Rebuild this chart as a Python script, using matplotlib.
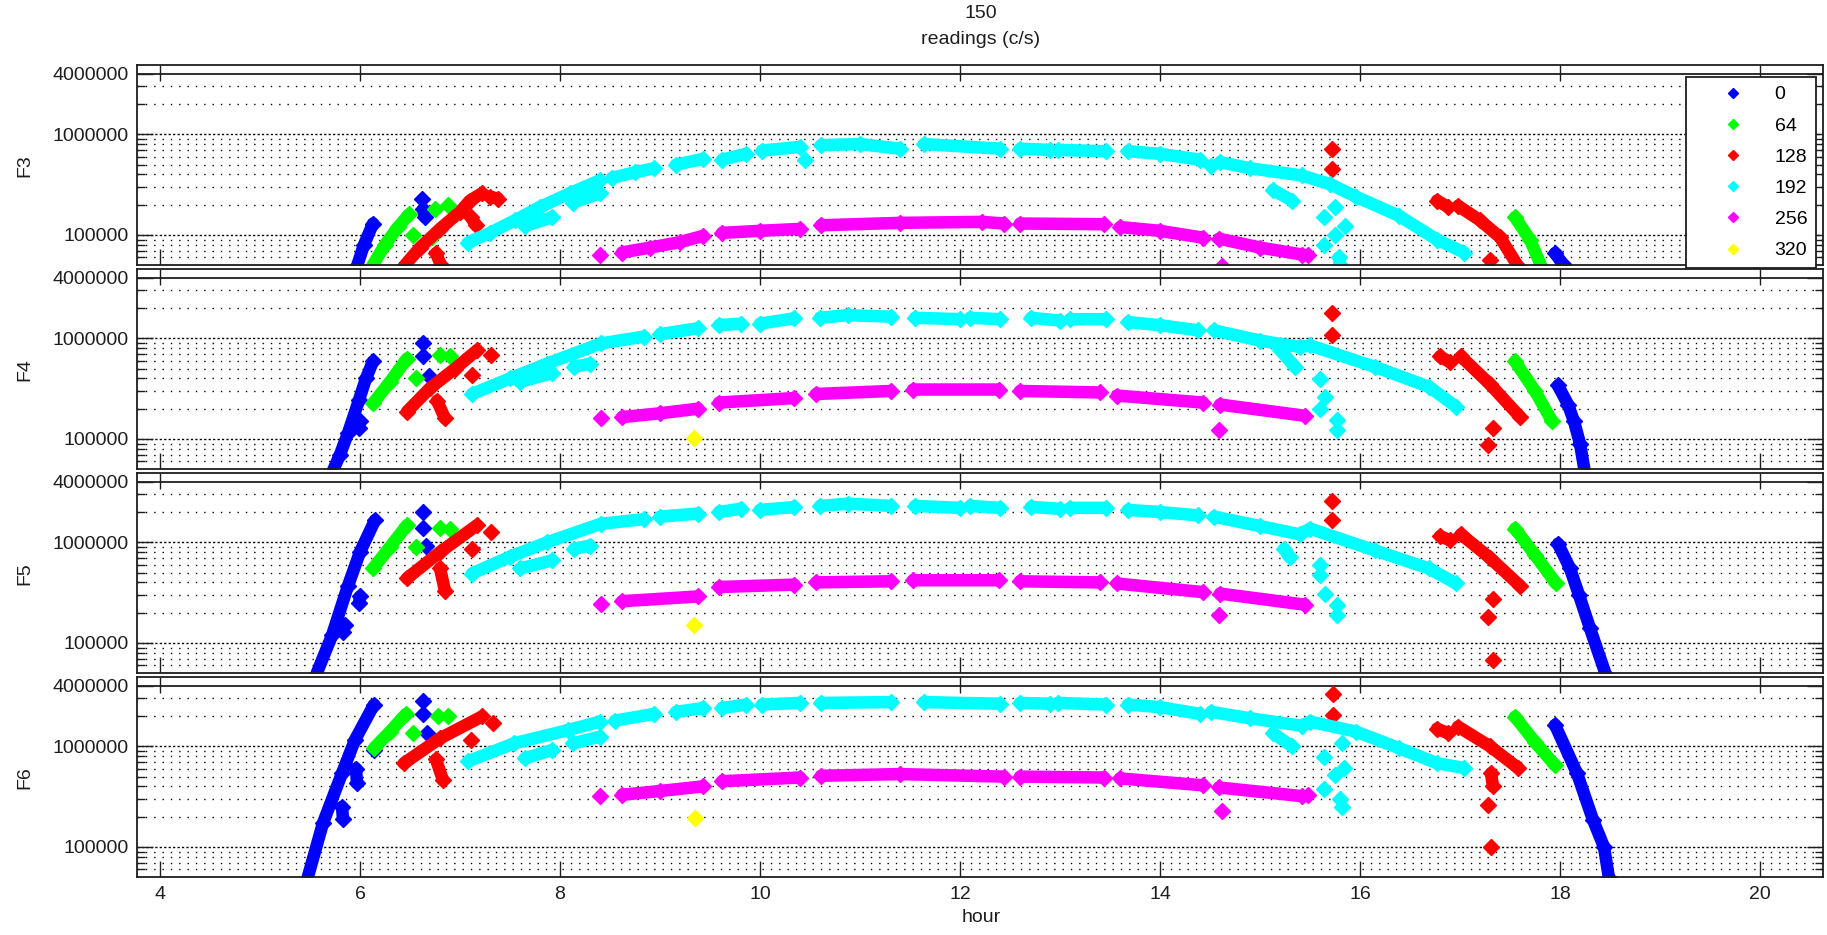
import numpy as np
import matplotlib
matplotlib.use('Agg')
import matplotlib.pyplot as plt
from matplotlib.lines import Line2D
from matplotlib.ticker import FixedLocator, NullFormatter

plt.rcParams['font.family'] = ['Liberation Sans', 'DejaVu Sans']

# ---------------------------------------------------------------------------
# Axis and legend definitions
# ---------------------------------------------------------------------------
HOUR_TICKS = [4, 6, 8, 10, 12, 14, 16, 18, 20]
Y_MAJOR = [1e5, 1e6, 4e6]
Y_MAJOR_LABELS = ['100000', '1000000', '4000000']
Y_MINOR = [6e4, 7e4, 8e4, 9e4, 2e5, 3e5, 4e5, 5e5, 6e5, 7e5, 8e5, 9e5, 2e6, 3e6]
PANELS = ['F3', 'F4', 'F5', 'F6']
CODES = ['0', '64', '128', '192', '256', '320']
COLORS = ['#0000ff', '#00ff00', '#ff0000', '#00ffff', '#ff00ff', '#ffff00']

# ---------------------------------------------------------------------------
# Readings (hour, c/s); None separates clusters
# ---------------------------------------------------------------------------
F3_0 = [(5.97, 4.9e4), (6.04, 8e4), (6.13, 1.3e5), None,
        (6.62, 2.3e5), None, (6.63, 1.8e5), (6.65, 1.5e5), None,
        (17.95, 6.6e4), (18.03, 5.1e4)]
F3_64 = [(6.11, 4.7e4), (6.25, 8e4), (6.38, 1.2e5), (6.49, 1.6e5), None,
         (6.53, 1.0e5), None, (6.72, 9.5e4), None, (6.75, 1.8e5), None,
         (6.88, 2.0e5), None,
         (17.55, 1.5e5), (17.7, 9e4), (17.82, 4.7e4)]
F3_128 = [(6.44, 4.9e4), (6.6, 7.5e4), (6.8, 1.15e5), (7.0, 1.7e5), (7.1, 2.2e5),
          (7.22, 2.6e5), None, (7.30, 2.4e5), (7.38, 2.3e5), None,
          (7.11, 1.5e5), (7.16, 1.25e5), None, (6.76, 6.6e4), (6.81, 5e4), None,
          (15.72, 7.1e5), None, (15.72, 4.5e5), None,
          (16.77, 2.2e5), (16.88, 1.9e5), None,
          (16.98, 1.95e5), (17.2, 1.4e5), (17.4, 9.5e4), (17.58, 4.9e4), None,
          (17.3, 5.6e4)]
F3_192 = [(7.08, 8.4e4), (7.3, 1.05e5), (7.55, 1.4e5), (7.8, 1.9e5), (8.1, 2.6e5),
          (8.40, 3.5e5), None, (8.52, 3.7e5), (8.75, 4.2e5), (8.94, 4.6e5), None,
          (9.16, 5.0e5), (9.43, 5.7e5), None, (9.62, 5.6e5), (9.86, 6.4e5), None,
          (10.02, 6.9e5), (10.40, 7.5e5), None, (10.45, 5.6e5), None,
          (10.61, 7.8e5), (11.0, 8.0e5), (11.40, 7.2e5), None,
          (11.64, 8.0e5), (12.4, 7.2e5), None, (12.6, 7.2e5), (12.9, 7.0e5), None,
          (12.98, 7.0e5), (13.46, 6.8e5), None,
          (13.68, 6.8e5), (14.0, 6.4e5), (14.40, 5.6e5), None, (14.51, 4.9e5), None,
          (14.6, 5.3e5), (14.9, 4.6e5), (15.42, 3.9e5), (15.7, 3.2e5), (15.96, 2.4e5),
          (16.39, 1.55e5), (16.77, 9.0e4), (17.04, 6.7e4), None,
          (7.65, 1.23e5), (7.92, 1.5e5), None, (8.13, 2.1e5), (8.40, 2.6e5), None,
          (15.13, 2.8e5), (15.32, 2.2e5), None,
          (15.64, 1.5e5), None, (15.75, 1.9e5), None, (15.85, 1.23e5), None,
          (15.75, 1.0e5), None, (15.64, 8e4), None, (15.79, 6e4), (15.8, 5e4)]
F3_256 = [(8.40, 6.4e4), None, (8.62, 6.7e4), (8.9, 7.5e4), (9.2, 8.5e4), (9.43, 9.8e4), None,
          (9.62, 1.05e5), (10.0, 1.1e5), (10.40, 1.15e5), None,
          (10.61, 1.25e5), (11.4, 1.32e5), (12.22, 1.35e5), (12.44, 1.3e5), None,
          (12.6, 1.3e5), (13.44, 1.28e5), None,
          (13.6, 1.2e5), (14.0, 1.1e5), (14.43, 9.4e4), None,
          (14.59, 9.2e4), (15.0, 7.5e4), (15.42, 6.4e4), None, (15.48, 6.4e4), None,
          (14.62, 4.9e4)]
F3_320 = []

F4_0 = [(5.72, 4.6e4), (5.8, 7e4), (5.88, 1.14e5), (5.99, 2.44e5), (6.06, 4e5),
        (6.13, 5.9e5), None, (5.99, 1.3e5), (6.0, 1.5e5), None,
        (6.63, 8.9e5), None, (6.63, 6.6e5), None, (6.69, 4.2e5), None,
        (17.98, 3.4e5), (18.08, 2.2e5), (18.14, 1.5e5), (18.2, 9e4), (18.25, 4.6e4)]
F4_64 = [(6.13, 2.26e5), (6.3, 3.7e5), (6.47, 6.3e5), None, (6.56, 4.0e5), None,
         (6.80, 6.8e5), None, (6.9, 6.6e5), None,
         (17.55, 5.9e5), (17.75, 3.0e5), (17.92, 1.5e5)]
F4_128 = [(6.47, 1.87e5), (6.7, 3.2e5), (6.95, 5.0e5), (7.17, 7.6e5), None,
          (7.31, 6.8e5), None, (7.12, 4.3e5), None, (6.77, 2.4e5), (6.85, 1.6e5), None,
          (15.72, 1.77e6), None, (15.72, 1.08e6), None,
          (16.8, 6.6e5), (16.9, 5.8e5), None,
          (17.01, 6.6e5), (17.3, 3.5e5), (17.6, 1.66e5), None,
          (17.33, 1.3e5), None, (17.28, 8.7e4)]
F4_192 = [(7.12, 2.8e5), (7.5, 4e5), (7.87, 5.6e5), (8.41, 8.9e5), (8.84, 1.04e6), None,
          (9.0, 1.1e6), (9.38, 1.26e6), None, (9.59, 1.35e6), (9.81, 1.4e6), None,
          (10.0, 1.4e6), (10.34, 1.58e6), None,
          (10.6, 1.6e6), (10.88, 1.7e6), (11.31, 1.64e6), None,
          (11.55, 1.6e6), (12.0, 1.55e6), None, (12.1, 1.6e6), (12.4, 1.55e6), None,
          (12.71, 1.6e6), (13.0, 1.5e6), None, (13.1, 1.55e6), (13.46, 1.55e6), None,
          (13.68, 1.45e6), (14.0, 1.35e6), (14.38, 1.2e6), None,
          (14.54, 1.2e6), (15.0, 9.5e5), (15.4, 8.2e5), (15.5, 8.5e5), (16.15, 5.2e5),
          (16.69, 3.3e5), (16.96, 2.1e5), None,
          (7.6, 3.7e5), (7.92, 4.5e5), None, (8.14, 5.2e5), (8.3, 5.6e5), None,
          (15.2, 7.7e5), (15.35, 5.2e5), None,
          (15.6, 3.9e5), None, (15.65, 2.6e5), None, (15.6, 2.0e5), None,
          (15.77, 1.55e5), None, (15.77, 1.23e5)]
F4_256 = [(8.41, 1.6e5), None, (8.62, 1.65e5), (9.0, 1.8e5), (9.38, 2.0e5), None,
          (9.59, 2.3e5), (10.34, 2.55e5), None, (10.56, 2.8e5), (11.31, 3.0e5), None,
          (11.53, 3.1e5), (12.39, 3.1e5), None, (12.6, 3.0e5), (13.4, 2.9e5), None,
          (13.57, 2.7e5), (14.43, 2.3e5), None, (14.6, 2.2e5), (15.45, 1.7e5), None,
          (14.59, 1.23e5)]
F4_320 = [(9.34, 1.03e5)]

F5_0 = [(5.56, 4.8e4), (5.72, 1.19e5), (5.88, 3.7e5), (6.0, 8e5), (6.15, 1.66e6), None,
        (5.83, 1.3e5), (5.85, 1.5e5), None, (5.99, 2.5e5), (6.0, 2.9e5), None,
        (6.63, 2.0e6), None, (6.63, 1.4e6), None, (6.66, 9.3e5), None,
        (17.98, 9.7e5), (18.1, 5.5e5), (18.19, 3e5), (18.3, 1.4e5), (18.46, 4.8e4)]
F5_64 = [(6.13, 5.5e5), (6.3, 9e5), (6.47, 1.48e6), None, (6.56, 9e5), None,
         (6.80, 1.4e6), None, (6.9, 1.35e6), None,
         (17.55, 1.37e6), (17.75, 7.5e5), (17.96, 3.9e5)]
F5_128 = [(6.47, 4.4e5), (6.8, 8e5), (7.17, 1.48e6), None, (7.31, 1.27e6), None,
          (7.12, 8.6e5), None, (6.8, 5.5e5), (6.85, 3.3e5), None,
          (15.72, 2.6e6), None, (15.72, 1.65e6), None,
          (16.8, 1.15e6), (16.9, 1.05e6), None,
          (17.01, 1.2e6), (17.3, 7e5), (17.6, 3.7e5), None,
          (17.33, 2.75e5), None, (17.28, 1.8e5), None, (17.33, 6.8e4)]
F5_192 = [(7.12, 4.9e5), (7.5, 7.2e5), (7.87, 1.0e6), (8.41, 1.53e6), (8.84, 1.7e6), None,
          (9.0, 1.8e6), (9.38, 1.93e6), None, (9.59, 2.0e6), (9.81, 2.16e6), None,
          (10.0, 2.1e6), (10.34, 2.24e6), None,
          (10.6, 2.3e6), (10.88, 2.42e6), (11.31, 2.3e6), None,
          (11.55, 2.3e6), (12.0, 2.2e6), None, (12.1, 2.3e6), (12.4, 2.2e6), None,
          (12.71, 2.25e6), (13.0, 2.15e6), None, (13.1, 2.2e6), (13.46, 2.2e6), None,
          (13.68, 2.1e6), (14.0, 2.0e6), (14.38, 1.85e6), None,
          (14.54, 1.8e6), (15.0, 1.45e6), (15.4, 1.2e6), (15.5, 1.37e6), (16.15, 8.3e5),
          (16.69, 5.5e5), (16.96, 3.9e5), None,
          (7.6, 5.5e5), (7.92, 6.6e5), None, (8.14, 8.6e5), (8.3, 9.3e5), None,
          (15.24, 8.6e5), (15.3, 7.1e5), None, (15.6, 5.9e5), None, (15.6, 4.7e5), None,
          (15.65, 3.1e5), None, (15.77, 2.36e5), None, (15.77, 1.9e5)]
F5_256 = [(8.41, 2.45e5), None, (8.62, 2.6e5), (9.38, 2.9e5), None,
          (9.59, 3.6e5), (10.34, 3.8e5), None, (10.56, 4.0e5), (11.31, 4.1e5), None,
          (11.53, 4.2e5), (12.39, 4.2e5), None, (12.6, 4.1e5), (13.4, 4.0e5), None,
          (13.57, 3.9e5), (14.43, 3.2e5), None, (14.6, 3.1e5), (15.45, 2.4e5), None,
          (14.59, 1.9e5)]
F5_320 = [(9.34, 1.5e5)]

F6_0 = [(5.47, 4.7e4), (5.63, 1.73e5), (5.82, 5.4e5), (5.95, 1.16e6), (6.14, 2.6e6), None,
        (5.96, 6e5), (5.97, 4.3e5), None, (5.82, 2.5e5), (5.83, 1.9e5), None,
        (6.63, 2.8e6), None, (6.63, 2.1e6), None, (6.67, 1.35e6), None, (6.14, 9.2e5), None,
        (17.95, 1.63e6), (18.17, 5.4e5), (18.33, 1.86e5), (18.44, 1.0e5), (18.49, 4.9e4)]
F6_64 = [(6.14, 9.6e5), (6.3, 1.4e6), (6.46, 2.1e6), None, (6.53, 1.35e6), None,
         (6.78, 2.0e6), None, (6.88, 2.0e6), None,
         (17.55, 1.97e6), (17.75, 1.1e6), (17.95, 6.5e5)]
F6_128 = [(6.44, 6.8e5), (6.8, 1.2e6), (7.22, 1.98e6), None, (7.11, 1.15e6), None,
          (7.33, 1.7e6), None, (6.76, 7.4e5), (6.83, 4.6e5), None,
          (15.73, 3.3e6), None, (15.73, 2.05e6), None,
          (16.77, 1.5e6), (16.88, 1.35e6), None,
          (16.98, 1.57e6), (17.3, 1.0e6), (17.58, 6.1e5), None,
          (17.31, 5.4e5), (17.33, 4.0e5), None, (17.28, 2.6e5), None, (17.31, 1.0e5)]
F6_192 = [(7.08, 7.1e5), (7.54, 1.07e6), (8.08, 1.45e6), (8.40, 1.76e6), None,
          (8.55, 1.8e6), (8.94, 2.1e6), None, (9.16, 2.2e6), (9.43, 2.4e6), None,
          (9.62, 2.4e6), (9.86, 2.6e6), None, (10.02, 2.6e6), (10.40, 2.7e6), None,
          (10.61, 2.7e6), (11.31, 2.75e6), None, (11.64, 2.75e6), (12.4, 2.65e6), None,
          (12.6, 2.7e6), (12.9, 2.65e6), None, (12.98, 2.7e6), (13.46, 2.6e6), None,
          (13.68, 2.6e6), (14.0, 2.45e6), (14.4, 2.1e6), None,
          (14.51, 2.2e6), (14.9, 1.9e6), (15.42, 1.6e6), (15.5, 1.76e6), (15.96, 1.4e6),
          (16.39, 9.6e5), (16.77, 6.8e5), (17.04, 6.1e5), None,
          (7.65, 7.6e5), (7.92, 9.2e5), None, (8.13, 1.07e6), (8.40, 1.25e6), None,
          (15.13, 1.35e6), (15.32, 1.0e6), None,
          (15.64, 7.8e5), None, (15.84, 6.1e5), None, (15.75, 5.2e5), None,
          (15.64, 3.8e5), None, (15.8, 3.0e5), None, (15.82, 2.5e5), None, (15.82, 1.07e6)]
F6_256 = [(8.40, 3.2e5), None, (8.62, 3.3e5), (9.0, 3.6e5), (9.43, 4.0e5), None,
          (9.62, 4.5e5), (10.40, 4.9e5), None, (10.61, 5.1e5), (11.4, 5.3e5), (12.44, 5.0e5), None,
          (12.6, 5.0e5), (13.44, 4.9e5), None, (13.6, 4.8e5), (14.43, 4.1e5), None,
          (14.59, 3.9e5), (15.42, 3.2e5), None, (15.48, 3.3e5), None, (14.62, 2.3e5)]
F6_320 = [(9.35, 1.95e5)]

PANEL_SERIES = [
    [F3_0, F3_64, F3_128, F3_192, F3_256, F3_320],
    [F4_0, F4_64, F4_128, F4_192, F4_256, F4_320],
    [F5_0, F5_64, F5_128, F5_192, F5_256, F5_320],
    [F6_0, F6_64, F6_128, F6_192, F6_256, F6_320],
]


def unpack(pts):
    h = [np.nan if p is None else p[0] for p in pts]
    v = [np.nan if p is None else p[1] for p in pts]
    return h, v


# ---------------------------------------------------------------------------
# Figure
# ---------------------------------------------------------------------------
W, H = 1827, 935
fig = plt.figure(figsize=(W / 100, H / 100), dpi=100)

LEFT, RIGHT = 137, 1823
TOP0, PANEL_H, STEP = 65.3, 200, 204
INK = '#1e1e1e'

axes = []
for i, name in enumerate(PANELS):
    top = TOP0 + STEP * i
    ax = fig.add_axes([LEFT / W, 1 - (top + PANEL_H) / H, (RIGHT - LEFT) / W, PANEL_H / H])
    axes.append(ax)

    ax.set_yscale('log')
    ax.set_xlim(3.77, 20.63)
    ax.set_ylim(5e4, 4.85e6)

    # grid: dotted at minor levels, denser at decades, solid at 4e6
    for v in Y_MINOR:
        ax.axhline(v, color='black', lw=1.0, ls=(0, (1, 5)), zorder=0)
    for v in [1e5, 1e6]:
        ax.axhline(v, color='black', lw=1.0, ls=(0, (1.6, 1.6)), zorder=0)
    ax.axhline(4e6, color=INK, lw=1.3, zorder=0)

    for pts, col in zip(PANEL_SERIES[i], COLORS):
        if not pts:
            continue
        h, v = unpack(pts)
        ax.plot(h, v, color=col, lw=9, marker='D', ms=8.5, mec=col,
                solid_capstyle='round', solid_joinstyle='round', zorder=2)

    ax.yaxis.set_major_locator(FixedLocator(Y_MAJOR))
    ax.yaxis.set_minor_locator(FixedLocator(Y_MINOR))
    ax.yaxis.set_minor_formatter(NullFormatter())
    ax.set_yticklabels(Y_MAJOR_LABELS)
    ax.set_xticks(HOUR_TICKS)
    ax.tick_params(which='both', direction='in', left=True, right=True,
                   top=True, bottom=True, width=1.0, colors=INK,
                   labelcolor=INK, labelsize=14)
    ax.tick_params(which='major', length=11.5, pad=6)
    ax.tick_params(which='minor', length=6)
    if i < len(PANELS) - 1:
        ax.tick_params(labelbottom=False)
    for sp in ax.spines.values():
        sp.set_linewidth(1.3)
        sp.set_color(INK)

    fig.text(25 / W, 1 - (top + PANEL_H / 2) / H, name, rotation=90,
             ha='center', va='center', fontsize=14, color=INK)

# legend
handles = [Line2D([], [], ls='none', marker='D', ms=5, color=c, mec=c) for c in COLORS]
leg = axes[0].legend(handles, CODES, loc='upper right',
                     bbox_to_anchor=(1816 / W, 1 - 77 / H), bbox_transform=fig.transFigure,
                     fancybox=False, framealpha=1, edgecolor=INK, fontsize=14,
                     handlelength=3.9, handletextpad=0.2, borderpad=0.45,
                     labelspacing=0.7, borderaxespad=0)
leg.get_frame().set_linewidth(1.3)

# titles and x label
fig.text(981 / W, 1 - 14 / H, '150', ha='center', va='center', fontsize=14, color=INK)
fig.text(981 / W, 1 - 40 / H, 'readings (c/s)', ha='center', va='center', fontsize=14,
         color=INK)
fig.text(981 / W, 1 - 918 / H, 'hour', ha='center', va='center', fontsize=14, color=INK)

fig.savefig('out.png', dpi=100)
